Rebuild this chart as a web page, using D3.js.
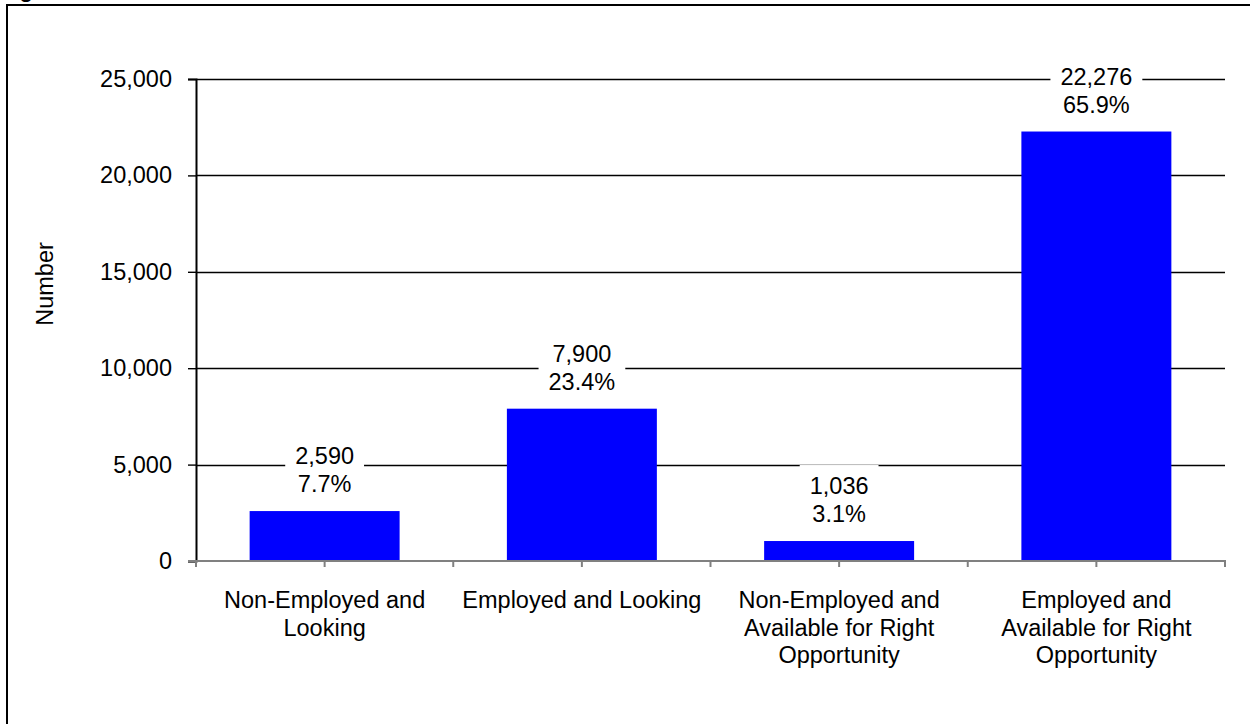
<!DOCTYPE html>
<html>
<head>
<meta charset="utf-8">
<script src="https://cdn.jsdelivr.net/npm/d3@7"></script>
<style>
  html, body { margin: 0; padding: 0; background: #fff; }
  svg { display: block; font-family: "Liberation Sans", Arial, Helvetica, sans-serif; }
</style>
</head>
<body>
<svg id="chart" width="1250" height="724"></svg>
<script>
// Job-seeking status of respondents
const categories = [
  "Non-Employed and|Looking",
  "Employed and Looking",
  "Non-Employed and|Available for Right|Opportunity",
  "Employed and|Available for Right|Opportunity"
];
const counts = [2590, 7900, 1036, 22276];
const shares = [7.7, 23.4, 3.1, 65.9];
const yTicks = [0, 5000, 10000, 15000, 20000, 25000];
const yTitle = "Number";
const figureTitle = "Figure";

const svg = d3.select("#chart");
const W = 1250, H = 724;
const plot = { left: 196, right: 1225, top: 79, bottom: 561 };
const fontSize = 23.5;

// outer frame (runs past the window edges)
svg.append("rect")
  .attr("x", 7).attr("y", 5)
  .attr("width", W + 20).attr("height", H + 20)
  .attr("fill", "#fff").attr("stroke", "#000").attr("stroke-width", 2);

// title, mostly above the visible area
svg.append("text")
  .attr("x", 0).attr("y", -3)
  .attr("font-size", 22).attr("font-weight", "bold")
  .text(figureTitle);

const x = d3.scaleBand()
  .domain(categories)
  .range([plot.left, plot.right])
  .paddingInner(0.417)
  .paddingOuter(0.2085);

const y = d3.scaleLinear()
  .domain([0, 25000])
  .range([plot.bottom, plot.top]);

const fmt = d3.format(",");

// horizontal gridlines
svg.append("g")
  .selectAll("line")
  .data(yTicks.filter(d => d > 0))
  .join("line")
  .attr("x1", plot.left).attr("x2", plot.right)
  .attr("y1", d => Math.round(y(d)) + 0.5).attr("y2", d => Math.round(y(d)) + 0.5)
  .attr("stroke", "#000").attr("stroke-width", 1.4);

// y axis
const yAxis = d3.axisLeft(y)
  .tickValues(yTicks)
  .tickFormat(fmt)
  .tickSize(8)
  .tickPadding(16);
const gy = svg.append("g")
  .attr("transform", `translate(${plot.left},0)`)
  .call(yAxis);
gy.select(".domain").attr("stroke", "#000").attr("stroke-width", 2);
gy.selectAll(".tick line").attr("stroke", "#000").attr("stroke-width", 1.4);
gy.selectAll(".tick text")
  .attr("font-size", fontSize)
  .attr("font-family", "Liberation Sans, Arial, sans-serif")
  .attr("fill", "#000");

// bars
svg.append("g")
  .selectAll("rect")
  .data(categories)
  .join("rect")
  .attr("x", d => x(d))
  .attr("width", x.bandwidth())
  .attr("y", (d, i) => y(counts[i]))
  .attr("height", (d, i) => y(0) - y(counts[i]))
  .attr("fill", "#0000ff");

// x axis: grey baseline with ticks at category edges and centres
const step = x.step();
const edges = d3.range(categories.length + 1).map(i => plot.left + i * step);
const centres = categories.map(c => x(c) + x.bandwidth() / 2);
const gx = svg.append("g");
gx.append("line")
  .attr("x1", plot.left - 8).attr("x2", plot.right + 1)
  .attr("y1", plot.bottom).attr("y2", plot.bottom)
  .attr("stroke", "#808080").attr("stroke-width", 2);
gx.selectAll("line.tk")
  .data(edges.concat(centres))
  .join("line")
  .attr("class", "tk")
  .attr("x1", d => d).attr("x2", d => d)
  .attr("y1", plot.bottom).attr("y2", plot.bottom + 6)
  .attr("stroke", "#808080").attr("stroke-width", 2);

// category labels
const lineGap = 27.5;
gx.selectAll("text.cat")
  .data(categories)
  .join("text")
  .attr("class", "cat")
  .attr("text-anchor", "middle")
  .attr("font-size", fontSize)
  .attr("fill", "#000")
  .each(function (d) {
    const t = d3.select(this);
    d.split("|").forEach((line, k) => {
      t.append("tspan")
        .attr("x", x(d) + x.bandwidth() / 2)
        .attr("y", 608 + k * lineGap)
        .text(line);
    });
  });

// value labels with white boxes
const labels = svg.append("g");
categories.forEach((c, i) => {
  const cx = x(c) + x.bandwidth() / 2;
  const base2 = y(counts[i]) - 19;
  const base1 = base2 - 28;
  const g = labels.append("g");
  const box = g.append("rect").attr("fill", "#fff");
  const t = g.append("text")
    .attr("text-anchor", "middle")
    .attr("font-size", fontSize)
    .attr("fill", "#000");
  t.append("tspan").attr("x", cx).attr("y", base1).text(fmt(counts[i]));
  t.append("tspan").attr("x", cx).attr("y", base2).text(shares[i].toFixed(1) + "%");
  const bb = t.node().getBBox();
  box.attr("x", bb.x - 10).attr("width", bb.width + 20)
    .attr("y", bb.y - 8).attr("height", bb.height + 12);
});

// y axis title
svg.append("text")
  .attr("transform", `translate(53,${(plot.top + plot.bottom) / 2 - 36}) rotate(-90)`)
  .attr("text-anchor", "middle")
  .attr("font-size", fontSize)
  .attr("fill", "#000")
  .text(yTitle);
</script>
</body>
</html>
